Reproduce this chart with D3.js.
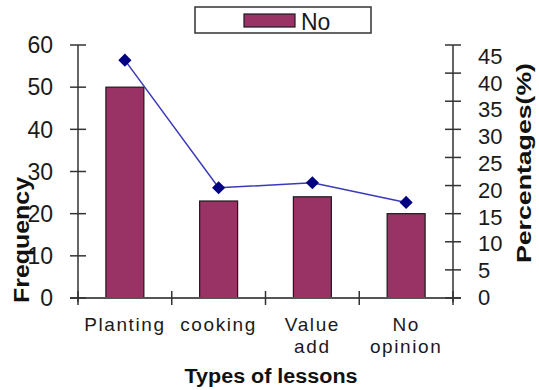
<!DOCTYPE html>
<html><head><meta charset="utf-8">
<script src="https://cdn.jsdelivr.net/npm/d3@7"></script>
<style>body{margin:0;background:#fff;}svg{display:block;font-family:Arial,"Liberation Sans",sans-serif;}</style>
</head><body>
<svg id="c" width="539" height="390"></svg>
<script>
const categories = [["Planting"], ["cooking"], ["Value", "add"], ["No", "opinion"]];
const frequency = [50, 23, 24, 20];
const percentages = [42.3, 19.6, 20.5, 17.0];
const leftTicks = [0, 10, 20, 30, 40, 50, 60];
const rightTicks = [0, 5, 10, 15, 20, 25, 30, 35, 40, 45];
const seriesName = "No";

const svg = d3.select("#c");
const L = 78, R = 453, T = 45, B = 298;
const keys = categories.map(c => c.join(" "));
const x = d3.scaleBand().domain(keys).range([L, R]).paddingInner(0.595).paddingOuter(0.2975);
const xb = d3.scaleBand().domain(keys).range([L, R]);
const yL = d3.scaleLinear().domain([0, 60]).range([B, T]);
const yR = d3.scaleLinear().domain([0, 45]).range([B, T]);
const yRLab = d3.scaleLinear().domain([0, 45]).range([B - 1, 56]);
const barColor = "#993366";

// bars
svg.selectAll("rect.bar").data(frequency).join("rect").attr("class", "bar")
  .attr("x", (d, i) => x(keys[i])).attr("width", x.bandwidth())
  .attr("y", d => yL(d)).attr("height", d => yL(0) - yL(d))
  .attr("fill", barColor).attr("stroke", "#1a1a1a").attr("stroke-width", 1.2);

// x axis line
svg.append("line").attr("x1", L - 8).attr("x2", R + 8).attr("y1", B).attr("y2", B)
  .attr("stroke", "#555").attr("stroke-width", 2);
// category ticks
const boundaries = keys.map(k => xb(k)).concat([R]);
svg.selectAll("line.ct").data(boundaries).join("line").attr("class", "ct")
  .attr("x1", d => d).attr("x2", d => d).attr("y1", B - 7).attr("y2", B + 7)
  .attr("stroke", "#333").attr("stroke-width", 1.5);

// left axis
svg.append("line").attr("x1", L).attr("x2", L).attr("y1", T).attr("y2", B + 4)
  .attr("stroke", "#333").attr("stroke-width", 1.5);
svg.selectAll("line.lt").data(leftTicks).join("line").attr("class", "lt")
  .attr("x1", L - 8).attr("x2", L + 8).attr("y1", d => yL(d)).attr("y2", d => yL(d))
  .attr("stroke", "#333").attr("stroke-width", 1.5);
svg.selectAll("text.ll").data(leftTicks).join("text").attr("class", "ll")
  .attr("x", L - 25).attr("y", d => yL(d)).attr("dy", "0.36em")
  .attr("text-anchor", "end").attr("font-size", 23).attr("fill", "#1a1a1a")
  .text(d => d);

// right axis
svg.append("line").attr("x1", R).attr("x2", R).attr("y1", T).attr("y2", B + 4)
  .attr("stroke", "#333").attr("stroke-width", 1.5);
svg.selectAll("line.rt").data(rightTicks).join("line").attr("class", "rt")
  .attr("x1", R - 8).attr("x2", R + 8).attr("y1", d => yR(d)).attr("y2", d => yR(d))
  .attr("stroke", "#333").attr("stroke-width", 1.5);
svg.selectAll("text.rl").data(rightTicks).join("text").attr("class", "rl")
  .attr("x", R + 25).attr("y", d => yRLab(d)).attr("dy", "0.36em")
  .attr("text-anchor", "start").attr("font-size", 22).attr("fill", "#1a1a1a")
  .text(d => d);

// percentage line
const cx = (d, i) => x(keys[i]) + x.bandwidth() / 2;
svg.append("path").datum(percentages)
  .attr("d", d3.line().x(cx).y(d => yR(d)))
  .attr("fill", "none").attr("stroke", "#3a3ab8").attr("stroke-width", 1.5);
svg.selectAll("path.mk").data(percentages).join("path").attr("class", "mk")
  .attr("d", d3.symbol(d3.symbolDiamond2, 110))
  .attr("transform", (d, i) => `translate(${cx(d, i)},${yR(d)})`)
  .attr("fill", "#000080");

// category labels
const cl = svg.selectAll("text.cl").data(categories).join("text").attr("class", "cl")
  .attr("text-anchor", "middle").attr("font-size", 19).attr("letter-spacing", 1.6)
  .attr("fill", "#1a1a1a");
cl.selectAll("tspan").data((d, i) => d.map(t => ({t, i}))).join("tspan")
  .attr("x", d => x(keys[d.i]) + x.bandwidth() / 2)
  .attr("y", (d, j) => 331 + j * 22).text(d => d.t);

// axis titles
svg.append("text").attr("x", 271).attr("y", 383).attr("text-anchor", "middle")
  .attr("font-size", 20).attr("font-weight", "bold").attr("fill", "#111")
  .attr("textLength", 173).attr("lengthAdjust", "spacingAndGlyphs").text("Types of lessons");
svg.append("text").attr("transform", "translate(29,240) rotate(-90)").attr("text-anchor", "middle")
  .attr("font-size", 22).attr("font-weight", "bold").attr("fill", "#111")
  .attr("textLength", 126).attr("lengthAdjust", "spacingAndGlyphs").text("Frequency");
svg.append("text").attr("transform", "translate(531,163) rotate(-90)").attr("text-anchor", "middle")
  .attr("font-size", 21).attr("font-weight", "bold").attr("fill", "#111")
  .attr("textLength", 200).attr("lengthAdjust", "spacingAndGlyphs").text("Percentages(%)");

// legend
svg.append("rect").attr("x", 195).attr("y", 7).attr("width", 176).attr("height", 26)
  .attr("fill", "#fff").attr("stroke", "#333").attr("stroke-width", 1.5);
svg.append("rect").attr("x", 244).attr("y", 14).attr("width", 51).attr("height", 13)
  .attr("fill", barColor).attr("stroke", "#1a1a1a").attr("stroke-width", 1.2);
svg.append("text").attr("x", 301).attr("y", 30).attr("font-size", 23).attr("fill", "#1a1a1a")
  .text(seriesName);
</script>
</body></html>
